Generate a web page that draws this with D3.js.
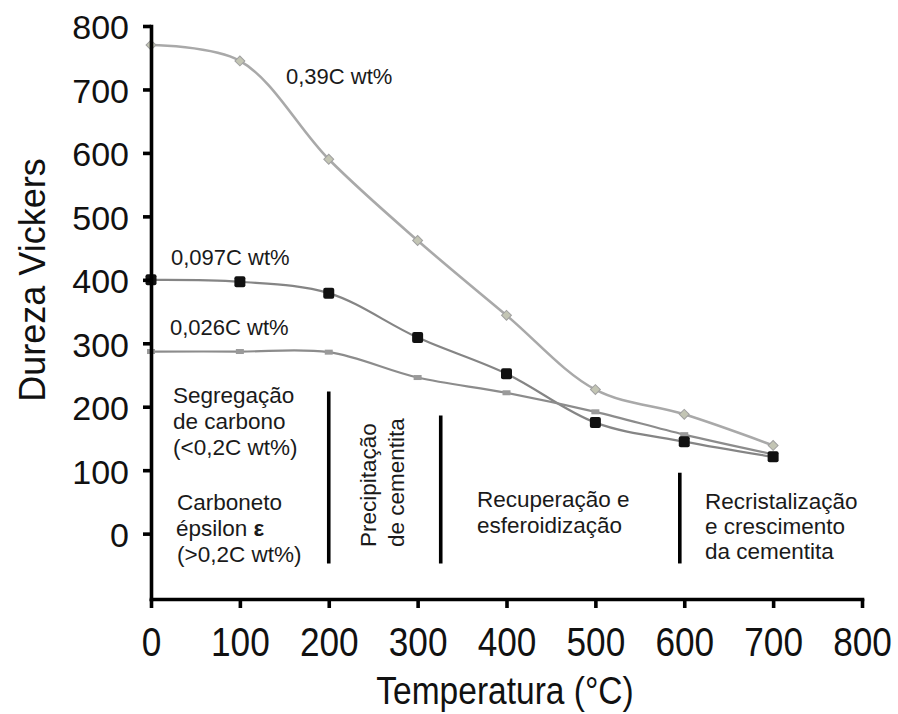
<!DOCTYPE html>
<html>
<head>
<meta charset="utf-8">
<script src="https://cdn.jsdelivr.net/npm/d3@7"></script>
<style>
  body { margin: 0; background: #fff; }
  svg { display: block; font-family: "Liberation Sans", Arial, sans-serif; }
</style>
</head>
<body>
<script>
// Temperatura (°C) e dureza Vickers
var temps = [0, 100, 200, 300, 400, 500, 600, 700];
var hv039 = [770, 745, 590, 462, 344, 227, 188, 139];
var hv0097 = [400, 397, 379, 309, 252, 175, 145, 121];
var hv0026 = [287, 287, 286, 246, 222, 192, 156, 125];

var xTicks = [0, 100, 200, 300, 400, 500, 600, 700, 800];
var yTicks = [0, 100, 200, 300, 400, 500, 600, 700, 800];

// divisorias entre regioes (temperatura, dureza inicial, dureza final)
var dividers = [
  { t: 200, top: 224, bottom: -47 },
  { t: 326, top: 186, bottom: -47 },
  { t: 595, top: 96, bottom: -47 }
];

var width = 898, height = 714;

var svg = d3.select("body")
  .append("svg")
  .attr("width", width)
  .attr("height", height);

var x = d3.scaleLinear().domain([0, 800]).range([151, 862]);
var y = d3.scaleLinear().domain([-103, 800]).range([599, 26]);

// curvas
var series = [
  { name: "0,39C wt%", values: hv039, stroke: "#a9a9a9", width: 2.6 },
  { name: "0,097C wt%", values: hv0097, stroke: "#858585", width: 2.2 },
  { name: "0,026C wt%", values: hv0026, stroke: "#8c8c8c", width: 2.2 }
];

var line = d3.line()
  .x(function (d) { return x(d[0]); })
  .y(function (d) { return y(d[1]); })
  .curve(d3.curveCatmullRom.alpha(0.5));

series.forEach(function (s) {
  svg.append("path")
    .datum(temps.map(function (t, i) { return [t, s.values[i]]; }))
    .attr("fill", "none")
    .attr("stroke", s.stroke)
    .attr("stroke-width", s.width)
    .attr("d", line);
});

// marcadores
svg.selectAll(".m039")
  .data(temps)
  .enter()
  .append("rect")
  .attr("x", function (d) { return x(d) - 3.5; })
  .attr("y", function (d, i) { return y(hv039[i]) - 3.5; })
  .attr("width", 7)
  .attr("height", 7)
  .attr("transform", function (d, i) { return "rotate(45," + x(d) + "," + y(hv039[i]) + ")"; })
  .attr("fill", "#c3c5b4")
  .attr("stroke", "#a0a0a0")
  .attr("stroke-width", 1);

svg.selectAll(".m0026")
  .data(temps)
  .enter()
  .append("rect")
  .attr("x", function (d) { return x(d) - 4; })
  .attr("y", function (d, i) { return y(hv0026[i]) - 2.5; })
  .attr("width", 8)
  .attr("height", 5)
  .attr("fill", "#9a9a9a");

svg.selectAll(".m0097")
  .data(temps)
  .enter()
  .append("rect")
  .attr("x", function (d) { return x(d) - 5.5; })
  .attr("y", function (d, i) { return y(hv0097[i]) - 5.5; })
  .attr("width", 11)
  .attr("height", 11)
  .attr("rx", 2)
  .attr("fill", "#111");

// eixos
var yAxis = svg.append("g")
  .attr("transform", "translate(" + x(0) + ",0)")
  .call(d3.axisLeft(y).tickValues(yTicks).tickSize(8).tickSizeOuter(0).tickPadding(14));

var xAxis = svg.append("g")
  .attr("transform", "translate(0," + y(-103) + ")")
  .call(d3.axisBottom(x).tickValues(xTicks).tickSize(9).tickSizeOuter(0).tickPadding(20));

[yAxis, xAxis].forEach(function (a) {
  a.select(".domain").attr("stroke", "#000").attr("stroke-width", 3.6).attr("stroke-linecap", "square");
  a.selectAll(".tick line").attr("stroke", "#000").attr("stroke-width", 3.6);
  a.selectAll("text").attr("fill", "#111").attr("font-family", "Liberation Sans, Arial, sans-serif");
});

yAxis.selectAll("text").attr("font-size", 34).attr("dy", "0.38em");
xAxis.selectAll("text").attr("font-size", 40).attr("transform", "scale(0.88,1)");

// titulos dos eixos
svg.append("text")
  .attr("transform", "translate(" + 505 + "," + 704 + ") scale(0.86,1)")
  .attr("text-anchor", "middle")
  .attr("font-size", 39)
  .attr("fill", "#111")
  .text("Temperatura (°C)");

svg.append("text")
  .attr("transform", "translate(45,280) rotate(-90)")
  .attr("text-anchor", "middle")
  .attr("font-size", 36)
  .attr("fill", "#111")
  .text("Dureza Vickers");

// rotulos das curvas
var seriesLabels = [
  { text: "0,39C wt%", x: 286, y: 84 },
  { text: "0,097C wt%", x: 171, y: 265 },
  { text: "0,026C wt%", x: 170, y: 335 }
];
svg.selectAll(".slabel")
  .data(seriesLabels)
  .enter()
  .append("text")
  .attr("x", function (d) { return d.x; })
  .attr("y", function (d) { return d.y; })
  .attr("font-size", 22)
  .attr("fill", "#1a1a1a")
  .text(function (d) { return d.text; });

// divisorias
svg.selectAll(".div")
  .data(dividers)
  .enter()
  .append("line")
  .attr("x1", function (d) { return x(d.t); })
  .attr("x2", function (d) { return x(d.t); })
  .attr("y1", function (d) { return y(d.top); })
  .attr("y2", function (d) { return y(d.bottom); })
  .attr("stroke", "#000")
  .attr("stroke-width", 3.6);

// textos das regioes
var fs = 22.5;
function block(lines, x0, y0, dy) {
  lines.forEach(function (l, i) {
    svg.append("text")
      .attr("x", x0)
      .attr("y", y0 + i * dy)
      .attr("font-size", fs)
      .attr("fill", "#1a1a1a")
      .text(l);
  });
}

block(["Segregação", "de carbono", "(<0,2C wt%)"], 173, 403, 26);
block(["Carboneto"], 177, 510, 26);

var eps = svg.append("text")
  .attr("x", 176)
  .attr("y", 536)
  .attr("font-size", fs)
  .attr("fill", "#1a1a1a");
eps.append("tspan").text("épsilon ");
eps.append("tspan").attr("font-weight", "bold").text("ε");

block(["(>0,2C wt%)"], 177, 562, 26);

block(["Recuperação e", "esferoidização"], 477, 507, 26);
block(["Recristalização", "e crescimento", "da cementita"], 705, 509, 25);

[["Precipitação", 376], ["de cementita", 404]].forEach(function (p) {
  svg.append("text")
    .attr("transform", "translate(" + p[1] + ",547) rotate(-90)")
    .attr("font-size", fs)
    .attr("fill", "#1a1a1a")
    .text(p[0]);
});
</script>
</body>
</html>
